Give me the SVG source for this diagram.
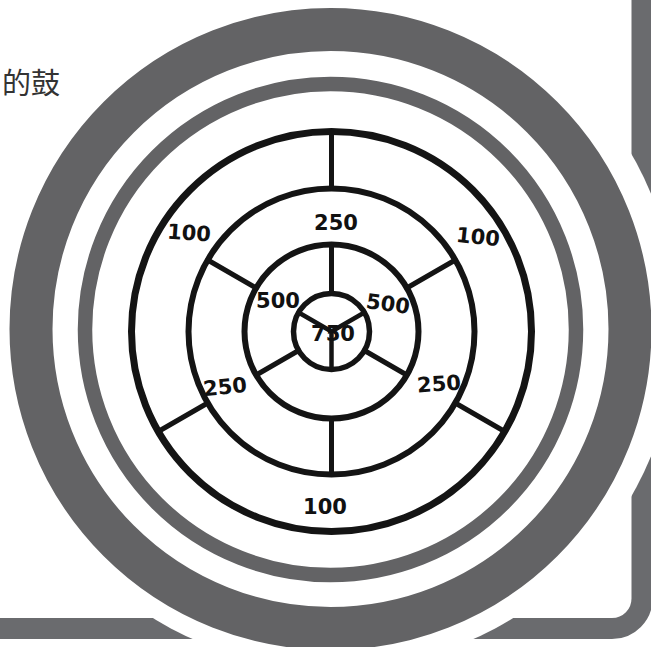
<svg xmlns="http://www.w3.org/2000/svg" width="651" height="647" viewBox="0 0 651 647">
  <style>
    .ring { fill: none; stroke: #636365; }
    .bk { fill: none; stroke: #141414; stroke-linecap: round; }
    .lbl { font-family: "DejaVu Sans", "Liberation Sans", sans-serif; font-size: 21px; font-weight: bold; fill: #111; text-anchor: middle; dominant-baseline: central; }
  </style>
  <rect width="651" height="647" fill="#ffffff"/>
  <g id="frame">
    <path d="M 642 -20 V 598 A 30 30 0 0 1 612 628.5 H -20" fill="none" stroke="#6a6b6e" stroke-width="21"/>
  </g>
  <g id="halo">
    <circle cx="333" cy="325" r="344" fill="#ffffff"/>
  </g>
  <g id="title">
    <text x="60" y="81" font-family="'Noto Sans CJK SC', 'Noto Sans CJK JP', sans-serif" font-size="29" fill="#333333" text-anchor="end" dominant-baseline="central">的鼓</text>
  </g>
  <g id="drum-rings">
    <circle class="ring" cx="330.5" cy="329" r="299.5" stroke-width="43"/>
    <circle class="ring" cx="330.5" cy="329.5" r="245.5" stroke-width="14.5"/>
  </g>
  <g id="target">
    <circle class="bk" cx="331.5" cy="331.5" r="200" stroke-width="7"/>
    <circle class="bk" cx="331.5" cy="331.5" r="143" stroke-width="6"/>
    <circle class="bk" cx="331.5" cy="331.5" r="87" stroke-width="6"/>
    <circle class="bk" cx="331.5" cy="331.5" r="38" stroke-width="5.5"/>
  </g>
  <g id="spokes">
    <line class="bk" stroke-width="5" x1="331.5" y1="131.5" x2="331.5" y2="188.5"/>
    <line class="bk" stroke-width="5" x1="158.3" y1="431.5" x2="207.7" y2="403"/>
    <line class="bk" stroke-width="5" x1="504.7" y1="431.5" x2="455.3" y2="403"/>
    <line class="bk" stroke-width="5" x1="207.7" y1="260" x2="256.2" y2="288"/>
    <line class="bk" stroke-width="5" x1="455.3" y1="260" x2="406.8" y2="288"/>
    <line class="bk" stroke-width="5" x1="331.5" y1="418.5" x2="331.5" y2="474.5"/>
    <line class="bk" stroke-width="5" x1="331.5" y1="244.5" x2="331.5" y2="293.5"/>
    <line class="bk" stroke-width="5" x1="256.2" y1="375" x2="298.6" y2="350.5"/>
    <line class="bk" stroke-width="5" x1="406.8" y1="375" x2="364.4" y2="350.5"/>
    <line class="bk" stroke-width="4.5" x1="298.6" y1="312.5" x2="331.5" y2="331.5"/>
    <line class="bk" stroke-width="4.5" x1="364.4" y1="312.5" x2="331.5" y2="331.5"/>
    <line class="bk" stroke-width="4.5" x1="331.5" y1="369.5" x2="331.5" y2="331.5"/>
  </g>
  <g id="labels">
    <text class="lbl" x="189" y="233" transform="rotate(4 189 233)">100</text>
    <text class="lbl" x="336" y="223">250</text>
    <text class="lbl" x="478" y="237" transform="rotate(6 478 237)">100</text>
    <text class="lbl" x="278" y="301">500</text>
    <text class="lbl" x="388" y="304" transform="rotate(8 388 304)">500</text>
    <text class="lbl" x="333" y="334">750</text>
    <text class="lbl" x="225" y="387" transform="rotate(-6 225 387)">250</text>
    <text class="lbl" x="439" y="384" transform="rotate(-4 439 384)">250</text>
    <text class="lbl" x="325" y="507" font-size="24">100</text>
  </g>
</svg>
